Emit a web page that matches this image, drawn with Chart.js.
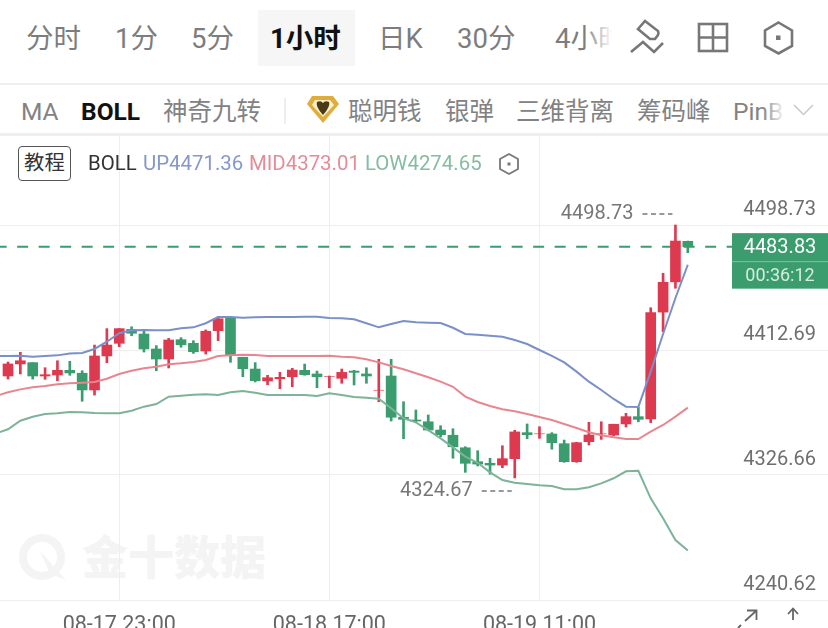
<!DOCTYPE html>
<html lang="zh">
<head>
<meta charset="utf-8">
<script src="https://cdn.jsdelivr.net/npm/chart.js@4"></script>
<style>
html,body{margin:0;padding:0;width:828px;height:628px;overflow:hidden;background:#fff;}
body{position:relative;font-family:Roboto,"Noto Sans CJK SC",sans-serif;}
.t{position:absolute;white-space:nowrap;line-height:1;}
.r1{top:25px;font-size:27.5px;color:#7d7d7d;}
.r2{top:100px;font-size:24.5px;color:#828282;}
.r3{top:153px;font-size:20.4px;}
.rule{position:absolute;left:0;width:828px;background:#efefef;}
svg{position:absolute;overflow:visible;}
#c{position:absolute;left:0;top:135px;}
</style>
</head>
<body>
<div style="position:absolute;left:258px;top:10px;width:97px;height:56px;background:#f6f6f6;"></div>
<div class="t r1" style="left:26px;">分时</div>
<div class="t r1" style="left:115px;">1分</div>
<div class="t r1" style="left:191px;">5分</div>
<div class="t r1" style="left:270px;color:#111;font-weight:700;">1小时</div>
<div class="t r1" style="left:378px;">日K</div>
<div class="t r1" style="left:457px;">30分</div>
<div class="t r1" style="left:555px;">4小时</div>
<div style="position:absolute;left:584px;top:10px;width:44px;height:60px;background:linear-gradient(to right,rgba(255,255,255,0),#fff 65%);"></div>
<svg style="left:0;top:0" width="828" height="130" fill="none" stroke="#777" stroke-width="2.6">
  <path d="M645 21 L658 31 Q659 33 658 35 L655 39 L650 39 L638 29 Z"/>
  <path d="M631 52 L643 42 L654 52 L663 43"/>
  <rect x="699" y="24" width="28" height="27"/><path d="M713 24V51M699 37.5H727"/>
  <path d="M778.500 22.500 L792 30.500 V46 L778.500 53.500 L765 46 V30.500 Z"/>
  <rect x="776" y="35.500" width="4.500" height="4.500" fill="#777" stroke="none"/>
</svg>
<div class="rule" style="top:83px;height:2px;"></div>

<div class="t r2" style="left:21px;">MA</div>
<div class="t r2" style="left:81px;color:#111;font-weight:700;">BOLL</div>
<div class="t r2" style="left:163px;">神奇九转</div>
<div style="position:absolute;left:284px;top:98px;width:2px;height:26px;background:#eeeeee;"></div>
<div class="t r2" style="left:348px;">聪明钱</div>
<div class="t r2" style="left:445px;">银弹</div>
<div class="t r2" style="left:516px;">三维背离</div>
<div class="t r2" style="left:637px;">筹码峰</div>
<div class="t r2" style="left:733px;">PinBar</div>
<div style="position:absolute;left:762px;top:95px;width:66px;height:32px;background:linear-gradient(to right,rgba(255,255,255,0),#fff 35%);"></div>
<svg style="left:0;top:0" width="828" height="130">
  <path d="M312 96 H333 L339 104 L323 123 L307 104 Z" fill="#e0ad3c"/>
  <path d="M315 100 H330 L334 105 L323 117 L312 105 Z" fill="#f8eec8"/>
  <path d="M317 102 Q321 100 323 103 Q325 100 329 102 Q331 106 323 115 Q315 106 317 102 Z" fill="#4a3a16"/>
  <path d="M794 105 L803.500 114.500 L813 105" fill="none" stroke="#c9c9c9" stroke-width="1.500"/>
</svg>
<div class="rule" style="top:133px;height:3px;"></div>

<!-- watermark -->
<svg style="left:0;top:0" width="300" height="628" fill="none">
  <circle cx="42" cy="557" r="19" stroke="#f4f4f4" stroke-width="8"/>
  <path d="M40 551 L66 580 L50 574 Z" fill="#f4f4f4"/>
</svg>
<div class="t" style="left:82px;top:531px;font-size:46px;font-weight:900;color:#f4f4f4;font-family:'Noto Sans CJK SC';">金十数据</div>

<canvas id="c" width="828" height="493"></canvas>

<div class="t r3" style="left:18px;top:146px;width:51px;height:33px;border:1px solid #555;border-radius:4px;text-align:center;line-height:33px;color:#333;background:#fff;">教程</div>
<div class="t r3" style="left:88px;color:#333;">BOLL</div>
<div class="t r3" style="left:143px;color:#8597cc;">UP4471.36</div>
<div class="t r3" style="left:249px;color:#e58d97;">MID4373.01</div>
<div class="t r3" style="left:365px;color:#84bda0;">LOW4274.65</div>
<svg style="left:0;top:0" width="828" height="200" fill="none" stroke="#777" stroke-width="1.800">
  <path d="M509 154 L518 159 V169 L509 174 L500 169 V159 Z"/>
  <rect x="507.500" y="162.500" width="3" height="3" fill="#777" stroke="none"/>
</svg>
<svg style="left:0;top:0" width="828" height="640" fill="none" stroke="#666" stroke-width="1.800">
  <path d="M745 621 L756 611 M747 610.500 H756.500 V620 M738 628 L741 625"/>
  <path d="M793 620 V609 M788 614 L793 608.500 L798 614"/>
</svg>

<script>
const categories = [
  "08-17 14:00","08-17 15:00","08-17 16:00","08-17 17:00","08-17 18:00","08-17 19:00","08-17 20:00","08-17 21:00",
  "08-17 22:00","08-17 23:00","08-18 00:00","08-18 01:00","08-18 02:00","08-18 03:00","08-18 04:00","08-18 06:00",
  "08-18 07:00","08-18 08:00","08-18 09:00","08-18 10:00","08-18 11:00","08-18 12:00","08-18 13:00","08-18 14:00",
  "08-18 15:00","08-18 16:00","08-18 17:00","08-18 18:00","08-18 19:00","08-18 20:00","08-18 21:00","08-18 22:00",
  "08-18 23:00","08-19 00:00","08-19 01:00","08-19 02:00","08-19 03:00","08-19 04:00","08-19 06:00","08-19 07:00",
  "08-19 08:00","08-19 09:00","08-19 10:00","08-19 11:00","08-19 12:00","08-19 13:00","08-19 14:00","08-19 15:00",
  "08-19 16:00","08-19 17:00","08-19 18:00","08-19 19:00","08-19 20:00","08-19 21:00","08-19 22:00","08-19 23:00"
];
const timeTickIndexes = [9, 26, 43];
const priceTicks = [4498.73, 4412.69, 4326.66, 4240.62];
const opens = [4394.8,4403.1,4404,4394.8,4395.5,4398.7,4396.7,4385.2,4408.6,4417.3,4426.9,4423.7,4413.4,4406.5,4419.8,4417.3,4412,4426,4434.5,4407.7,4399.6,4391.4,4392.9,4394.3,4398.7,4396.2,4394.5,4393.2,4398.2,4396.2,4385,4394.8,4366.4,4364.5,4363.3,4357.6,4354,4345.4,4335.8,4334.7,4333.5,4337.9,4355.8,4355,4354.9,4348.2,4335.8,4349.6,4355,4354.2,4361.8,4366.8,4365.2,4438.8,4459.6,4487.5];
const closes = [4403.1,4405.3,4394.8,4395.7,4398.7,4396.9,4385.2,4408.6,4416.1,4427.4,4424.2,4413.4,4406.5,4419.6,4416.3,4411.5,4425.6,4434.2,4409.2,4399.8,4391.6,4393.6,4393.9,4398.9,4395.7,4394.3,4394.5,4397.3,4397.3,4394.8,4385,4366.4,4365,4363.8,4357.6,4354.4,4346.1,4334.7,4334.2,4333.5,4337.9,4356.3,4354.4,4355,4348.9,4335.8,4348.9,4354.2,4355,4361.6,4366.8,4365,4438.4,4459.3,4487.7,4483.83];
const highs = [4404.4,4411.1,4404,4400.5,4405.3,4404.9,4398.4,4416.1,4427.4,4427.4,4428.7,4426,4415.7,4420.7,4421.2,4419.1,4426.5,4435.6,4435.6,4407.7,4404,4395.3,4397.3,4400.1,4403,4398.2,4394.8,4399.6,4398.7,4400.5,4406.3,4406.3,4377.1,4371.4,4368,4360.6,4358.5,4346.1,4343.4,4338.2,4346.8,4357.4,4361.8,4359.9,4355.8,4350.7,4349.2,4362.9,4363.3,4361.6,4369.1,4373.3,4441.8,4465.5,4498.73,4487.7];
const lows = [4392.7,4396.2,4392.7,4392.5,4391.6,4395.3,4377.4,4381.7,4404,4415,4422.5,4411.3,4398.4,4400.3,4414.6,4410.4,4409.9,4419.1,4404.2,4394.3,4390.7,4388.8,4386,4387.4,4395.3,4386.7,4386.7,4389.8,4388.6,4389.8,4377.1,4363.8,4351.6,4363.3,4357.1,4353,4338.2,4328.5,4332.9,4327.2,4331.7,4324.67,4351.6,4351.9,4344.4,4335.4,4335.4,4347.3,4351.2,4353.5,4359.7,4363.3,4362.7,4425.3,4455.2,4479.7];
// The bands enter from the left edge, so each starts one candle before the first visible one.
const upBand = [4408.5,4408.6,4408.8,4408.1,4408.6,4409,4410.3,4410.6,4413.4,4418.4,4424.2,4426.3,4426.5,4426.3,4426.3,4427.6,4428.3,4431.1,4435.4,4435.4,4434.9,4435.2,4435.4,4435.4,4435.4,4435.6,4435.6,4434.7,4434.5,4433.8,4431.1,4428.3,4430.6,4432.7,4431.8,4431.5,4431.3,4428,4423.7,4423.2,4422.5,4421.8,4419.6,4416.8,4412.7,4408.6,4404.2,4397.8,4390.9,4385.2,4379,4373.7,4373.5,4397.8,4423.7,4448.5,4471.36];
const midBand = [4381,4383.6,4385.6,4387,4387.9,4389.1,4389.8,4390.2,4390.7,4392.9,4396.2,4398.4,4400.1,4401.2,4402.9,4403.5,4404.4,4405.8,4408.6,4409,4409.5,4409.3,4408.6,4408.6,4408.6,4408.6,4408.6,4408.8,4408.1,4407.7,4406.3,4404.2,4401.7,4399.4,4396.7,4393.9,4390.9,4387.4,4380.6,4376.9,4374.2,4371.9,4370.5,4368.6,4366.6,4364.5,4361.8,4359,4356.1,4354,4352.6,4351.4,4351.4,4356.5,4361.1,4366.8,4373.01];
const lowBand = [4355.2,4358.1,4364,4366.8,4368.6,4369.1,4370,4369.8,4369.3,4369.1,4369.1,4370.9,4373.7,4375.5,4380.6,4381.2,4381.9,4382.2,4381.7,4383.6,4384.5,4383.3,4381.7,4381.7,4381.7,4381.7,4381,4382.9,4381.7,4380.3,4379.9,4379.2,4372.6,4365.7,4362.9,4357.6,4351.9,4345.7,4339.3,4335.1,4328.5,4323.2,4321.4,4320.5,4319.6,4319.1,4316.8,4316.8,4318.2,4320.9,4324.4,4329.2,4329.6,4310.6,4296.9,4281.9,4274.65];
const lastPrice = 4483.83;
const countdown = "00:36:12";
const RED = "#de3a4f", GREEN = "#3b9c6e";

const barColor = i => closes[i] >= opens[i] ? RED : GREEN;
const toBandPoints = arr => arr.map((v, i) => ({ x: i - 1, y: v }));
const fmt = v => v.toFixed(2);

const extrema = {
  id: "extrema",
  afterDatasetsDraw(chart) {
    const { ctx, scales: { x, y } } = chart;
    const drawMark = (price, idx, dy) => {
      const px = x.getPixelForValue(idx) - 3, py = y.getPixelForValue(price) + dy;
      ctx.save();
      ctx.fillStyle = "#777";
      ctx.font = "20px Roboto";
      ctx.textAlign = "right";
      ctx.textBaseline = "middle";
      ctx.fillText(fmt(price), px - 39, py);
      ctx.strokeStyle = "#777";
      ctx.lineWidth = 1.5;
      ctx.setLineDash([5, 3.5]);
      ctx.beginPath();
      ctx.moveTo(px - 30, py);
      ctx.lineTo(px, py);
      ctx.stroke();
      ctx.restore();
    };
    const hi = Math.max(...highs), lo = Math.min(...lows);
    drawMark(hi, highs.indexOf(hi), -11);
    drawMark(lo, lows.indexOf(lo), 13);

    const p = y.getPixelForValue(lastPrice);
    ctx.save();
    ctx.fillStyle = GREEN;
    ctx.fillRect(732, p - 13.5, 96, 55.5);
    ctx.fillStyle = "#7fc3a2";
    ctx.fillRect(732, p + 14.5, 96, 1);
    ctx.textAlign = "center";
    ctx.textBaseline = "middle";
    ctx.fillStyle = "#ffffff";
    ctx.font = "20px Roboto";
    ctx.fillText(fmt(lastPrice), 780, p + 1.5);
    ctx.fillStyle = "#d5ecdf";
    ctx.font = "18px Roboto";
    ctx.fillText(countdown, 780, p + 29.5);
    ctx.restore();
  }
};

new Chart(document.getElementById("c"), {
  type: "bar",
  data: {
    datasets: [
      { type: "line", label: "UP", data: toBandPoints(upBand), borderColor: "#7b8fc8", borderWidth: 2, pointRadius: 0, tension: 0, order: 1 },
      { type: "line", label: "MID", data: toBandPoints(midBand), borderColor: "#e8868f", borderWidth: 2, pointRadius: 0, tension: 0, order: 1 },
      { type: "line", label: "LOW", data: toBandPoints(lowBand), borderColor: "#7db398", borderWidth: 2, pointRadius: 0, tension: 0, order: 1 },
      { type: "line", label: "last", data: [{ x: -1, y: lastPrice }, { x: 58.6, y: lastPrice }], borderColor: GREEN, borderWidth: 2, borderDash: [11, 10.5], pointRadius: 0, order: 4 },
      { type: "bar", label: "body", data: opens.map((o, i) => ({ x: i, y: [o, closes[i]] })), backgroundColor: opens.map((_, i) => barColor(i)), barThickness: 10, grouped: false, order: 2 },
      { type: "bar", label: "wick", data: lows.map((l, i) => ({ x: i, y: [l, highs[i]] })), backgroundColor: opens.map((_, i) => barColor(i)), barThickness: 2, grouped: false, order: 3 }
    ]
  },
  options: {
    responsive: false,
    animation: false,
    layout: { padding: 0 },
    events: [],
    plugins: { legend: { display: false }, tooltip: { enabled: false } },
    scales: {
      x: {
        type: "linear",
        offset: false,
        min: -0.647,
        max: 66.343,
        border: { display: false },
        grid: { color: "#eeeeee", lineWidth: 1, drawTicks: false, offset: false },
        afterBuildTicks(axis) { axis.ticks = timeTickIndexes.map(v => ({ value: v })); },
        afterFit(axis) { axis.height = 28; axis.paddingLeft = 0; axis.paddingRight = 0; },
        ticks: {
          autoSkip: false, maxRotation: 0, padding: 13, color: "#666",
          font: { family: "Roboto", size: 21.5 },
          callback: v => categories[v]
        }
      },
      y: {
        position: "right",
        min: 4240.62,
        max: 4560.68,
        border: { display: false },
        grid: { color: "#eeeeee", lineWidth: 1, drawTicks: false },
        afterBuildTicks(axis) { axis.ticks = priceTicks.map(v => ({ value: v })); },
        afterFit(axis) { axis.width = 0; axis.paddingTop = 0; axis.paddingBottom = 0; },
        ticks: {
          mirror: true, padding: -12, labelOffset: -15, color: "#6f6f6f",
          font: { family: "Roboto", size: 20 },
          callback: v => fmt(v)
        }
      }
    }
  },
  plugins: [extrema]
});
</script>
</body>
</html>
